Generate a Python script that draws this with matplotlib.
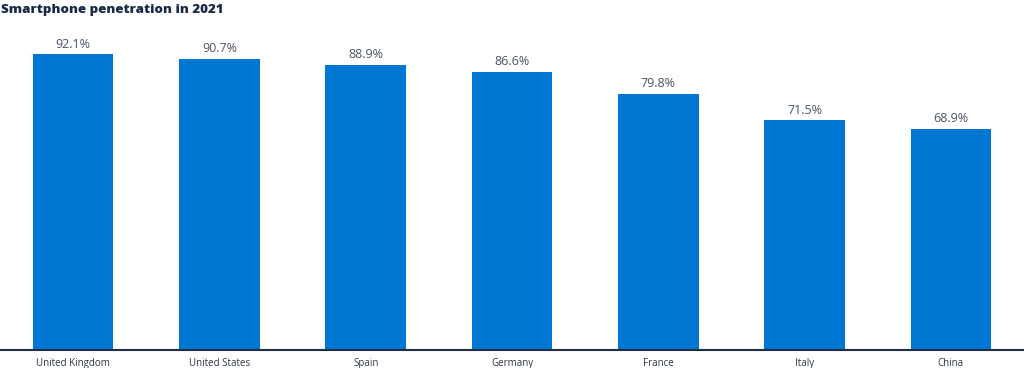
import matplotlib
matplotlib.use("Agg")
import matplotlib.pyplot as plt

categories = ["United Kingdom", "United States", "Spain", "Germany", "France", "Italy", "China"]
values = [92.1, 90.7, 88.9, 86.6, 79.8, 71.5, 68.9]
labels = ["92.1%", "90.7%", "88.9%", "86.6%", "79.8%", "71.5%", "68.9%"]
title = "Smartphone penetration in 2021"

plt.rcParams['font.family'] = ['Open Sans', 'DejaVu Sans']

W, H = 1024, 368
fig = plt.figure(figsize=(W/100, H/100), dpi=100)
ax = fig.add_axes([0/W, (H-350)/H, 1024/W, (350-29)/H])

x = list(range(len(categories)))
ax.bar(x, values, width=0.55, color="#0077d3", zorder=2)
for xi, v, lab in zip(x, values, labels):
    ax.text(xi, v + 1.2, lab, ha="center", va="bottom", fontsize=9, color="#4a5563")

ax.set_xlim(-0.5, len(categories) - 0.5)
ax.set_ylim(0, 100)
ax.set_xticks(x)
ax.set_xticklabels(categories, fontsize=7, color="#2f3642")
ax.tick_params(axis="x", length=0, pad=6)
ax.set_yticks([])
for s in ["top", "right", "left"]:
    ax.spines[s].set_visible(False)
ax.spines["bottom"].set_color("#1f2d45")
ax.spines["bottom"].set_linewidth(1.5)

fig.text(1/W, 1 - 4/H, title, ha="left", va="top", fontsize=9.6, fontweight="heavy", color="#1b2a47")

fig.savefig("out.png", dpi=100)
